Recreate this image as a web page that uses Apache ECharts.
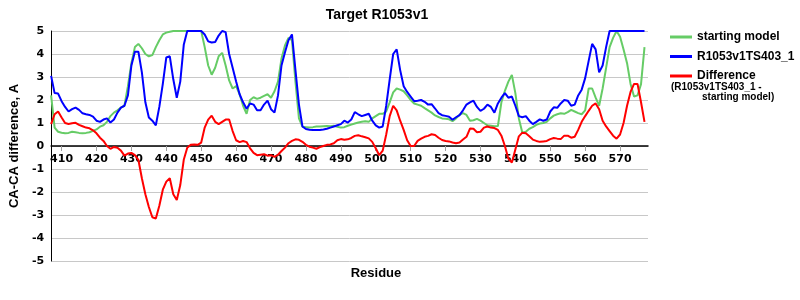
<!DOCTYPE html>
<html>
<head>
<meta charset="utf-8">
<script src="https://cdn.jsdelivr.net/npm/echarts@6/dist/echarts.min.js"></script>
<style>
html,body{margin:0;padding:0;background:#fff;}
#chart{width:800px;height:300px;}
</style>
</head>
<body>
<div id="chart"></div>
<script>
var firstResidue = 407;
var xTickLabels = [410,420,430,440,450,460,470,480,490,500,510,520,530,540,550,560,570];
var yTickLabels = [-5,-4,-3,-2,-1,0,1,2,3,4,5];

var startingModel = [
2.2,0.8,0.62,0.58,0.55,0.57,0.62,0.6,0.57,0.55,
0.57,0.6,0.66,0.72,0.84,0.9,1.05,1.3,1.45,1.55,
1.67,1.75,2.6,3.6,4.3,4.44,4.25,4.0,3.9,3.95,
4.3,4.6,4.85,4.93,4.97,5,5,5,5,5,
5,5,5,5,4.3,3.5,3.1,3.4,3.9,4.05,
3.5,2.85,2.5,2.6,2.25,1.75,1.4,2.0,2.12,2.05,
2.1,2.18,2.25,2.1,2.38,2.8,3.8,4.37,4.7,4.6,
2.8,1.2,0.84,0.82,0.8,0.82,0.85,0.85,0.86,0.87,
0.86,0.88,0.84,0.8,0.82,0.88,0.93,0.98,1.02,1.05,
1.08,1.05,1.2,1.3,1.4,1.4,1.5,1.9,2.33,2.5,
2.45,2.38,2.2,2.0,1.85,1.8,1.75,1.65,1.55,1.45,
1.33,1.26,1.2,1.18,1.16,1.08,1.2,1.35,1.43,1.35,
1.1,1.12,1.18,1.1,1.0,0.9,0.88,0.86,0.87,1.9,
2.4,2.8,3.09,2.3,1.2,0.58,0.62,0.75,0.82,0.92,
0.98,1.0,1.05,1.2,1.32,1.38,1.42,1.4,1.47,1.57,
1.5,1.43,1.38,1.55,2.5,2.5,2.1,1.75,2.5,3.4,
4.3,4.7,5.0,4.75,4.2,3.6,2.7,2.15,2.2,2.69,
4.3
];

var model403 = [
3.05,2.3,2.28,1.95,1.7,1.5,1.6,1.67,1.57,1.42,
1.38,1.35,1.28,1.1,1.05,1.15,1.2,1.02,1.15,1.45,
1.67,1.75,2.2,3.5,4.1,4.1,3.2,1.9,1.24,1.1,
0.9,1.7,2.7,3.85,3.9,2.9,2.1,2.8,4.4,5,
5,5,5,5,4.85,4.55,4.5,4.52,4.8,5,
4.95,4.0,3.4,2.8,2.25,1.9,1.62,1.85,1.8,1.55,
1.55,1.8,1.97,1.6,1.45,2.2,3.5,4.08,4.6,4.85,
3.3,1.8,0.85,0.74,0.71,0.7,0.7,0.7,0.72,0.75,
0.8,0.85,0.9,0.95,1.1,1.02,1.15,1.47,1.38,1.3,
1.35,1.4,1.1,0.9,0.8,0.85,1.75,2.9,4.0,4.2,
3.3,2.6,2.35,2.15,1.95,1.97,2.0,1.92,1.8,1.82,
1.63,1.43,1.34,1.31,1.27,1.14,1.25,1.34,1.55,1.8,
1.9,1.97,1.7,1.53,1.62,1.8,1.7,1.45,1.85,2.1,
2.3,2.1,2.15,1.75,1.3,1.25,1.3,1.1,0.95,1.05,
1.16,1.1,1.15,1.5,1.68,1.66,1.85,2.0,1.97,1.75,
1.8,2.2,2.45,2.95,3.7,4.44,4.2,3.2,3.5,4.3,
5,5,5,5,5,5,5,5,5,5,
5
];

var difference = [
0.95,1.38,1.5,1.24,1.0,0.96,0.99,1.01,0.92,0.86,
0.8,0.77,0.68,0.55,0.36,0.22,0.0,-0.12,-0.04,-0.08,
-0.2,-0.42,-0.33,-0.3,-0.4,-0.6,-1.4,-2.1,-2.65,-3.1,
-3.15,-2.6,-1.9,-1.55,-1.4,-2.1,-2.35,-1.7,-0.6,-0.08,
0.05,0.07,0.05,0.15,0.8,1.15,1.32,1.05,0.95,1.05,
1.15,1.15,0.65,0.25,0.17,0.22,0.17,-0.1,-0.3,-0.4,
-0.38,-0.36,-0.42,-0.4,-0.47,-0.38,-0.22,-0.07,0.12,0.22,
0.29,0.27,0.18,0.05,-0.03,-0.07,-0.12,-0.05,0.0,0.05,
0.07,0.12,0.25,0.3,0.27,0.29,0.35,0.44,0.47,0.42,
0.38,0.33,0.18,-0.1,-0.4,-0.2,0.5,1.3,1.75,1.55,
1.1,0.7,0.25,0.0,0.0,0.22,0.32,0.4,0.44,0.51,
0.48,0.36,0.26,0.22,0.2,0.15,0.12,0.15,0.28,0.4,
0.76,0.75,0.6,0.62,0.8,0.85,0.8,0.78,0.7,0.45,
0.0,-0.55,-0.72,-0.15,0.42,0.58,0.55,0.42,0.28,0.22,
0.18,0.2,0.22,0.3,0.35,0.32,0.3,0.45,0.45,0.36,
0.4,0.7,1.05,1.3,1.53,1.75,1.85,1.6,1.1,0.85,
0.65,0.45,0.32,0.5,1.0,1.75,2.35,2.7,2.7,1.9,
1.05
];

function pairs(arr){
  var out = [];
  for (var i = 0; i < arr.length; i++) out.push([firstResidue + i, arr[i]]);
  return out;
}

var FONT = '"Liberation Sans", Arial, sans-serif';
var chart = echarts.init(document.getElementById('chart'), null, {renderer:'canvas'});
chart.setOption({
  animation: false,
  backgroundColor: '#ffffff',
  textStyle: {fontFamily: FONT, color: '#000'},
  title: [
    {text: 'Target R1053v1', left: 372, top: 3, textAlign: 'center',
     textStyle: {fontFamily: FONT, fontSize: 14, fontWeight: 'bold', color: '#000'}},
    {text: 'Residue', left: 371, top: 262, textAlign: 'center',
     textStyle: {fontFamily: FONT, fontSize: 13, fontWeight: 'bold', color: '#000'}}
  ],
  grid: {left: 50, right: 152, top: 31, bottom: 39, containLabel: false},
  legend: {
    orient: 'vertical', left: 665, top: 25, itemGap: 5.5,
    itemWidth: 22, itemHeight: 3, icon: 'rect',
    textStyle: {fontFamily: FONT, fontSize: 12, fontWeight: 'bold', color: '#000', lineHeight: 14},
    data: ['starting model', 'R1053v1TS403_1', 'Difference']
  },
  graphic: [
    {type: 'text', left: 671, top: 82, style: {text: '(R1053v1TS403_1 -', font: 'bold 10px "Liberation Sans", Arial, sans-serif', fill: '#000'}},
    {type: 'text', left: 702, top: 92, style: {text: 'starting model)', font: 'bold 10px "Liberation Sans", Arial, sans-serif', fill: '#000'}}
  ],
  xAxis: {
    type: 'value', min: 407, max: 578, position: 'bottom', offset: -115,
    axisLine: {onZero: false, lineStyle: {color: '#000', width: 1.5}},
    axisTick: {show: true, length: 5, customValues: xTickLabels, lineStyle: {color: '#a0a0a0'}},
    axisLabel: {customValues: xTickLabels, margin: 8, fontFamily: '"DejaVu Sans", Verdana, sans-serif', fontSize: 11, fontWeight: 'bold', color: '#000'},
    splitLine: {show: false}
  },
  yAxis: {
    type: 'value', min: -5, max: 5, interval: 1,
    name: 'CA-CA difference, A', nameLocation: 'middle', nameGap: 30, nameRotate: 90,
    nameTextStyle: {fontFamily: FONT, fontSize: 13, fontWeight: 'bold', color: '#000'},
    axisLine: {show: true, lineStyle: {color: '#000', width: 1}},
    axisTick: {show: false},
    axisLabel: {margin: 7, fontFamily: '"DejaVu Sans", Verdana, sans-serif', fontSize: 11, fontWeight: 'bold', color: '#000',
      formatter: function(v){ return yTickLabels.indexOf(v) >= 0 ? String(v) : ''; }},
    splitLine: {show: true, lineStyle: {color: '#c8c8c8', width: 1}}
  },
  series: [
    {name: 'starting model', type: 'line', data: pairs(startingModel), showSymbol: false,
     lineStyle: {color: '#66cc66', width: 2}, itemStyle: {color: '#66cc66'}},
    {name: 'R1053v1TS403_1', type: 'line', data: pairs(model403), showSymbol: false,
     lineStyle: {color: '#0000ff', width: 2}, itemStyle: {color: '#0000ff'}},
    {name: 'Difference', type: 'line', data: pairs(difference), showSymbol: false,
     lineStyle: {color: '#ff0000', width: 2}, itemStyle: {color: '#ff0000'}}
  ]
});
</script>
</body>
</html>
